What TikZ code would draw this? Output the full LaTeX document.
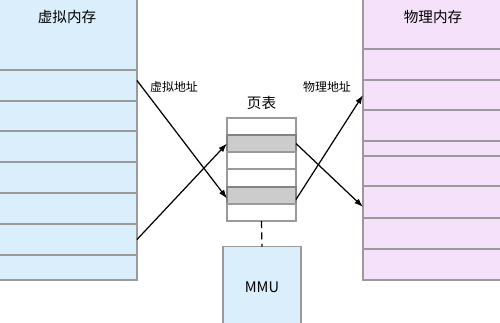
\documentclass[tikz,border=0pt]{standalone}
\usepackage{fontspec}
\setmainfont{Noto Sans CJK SC}
\usepackage{tikz}
\usetikzlibrary{arrows.meta, positioning, calc}
\definecolor{vmFill}{HTML}{DAEEFB}
\definecolor{pmFill}{HTML}{F6E1FA}
\definecolor{cellLine}{HTML}{9A9A9A}
\definecolor{ptUsed}{HTML}{CCCCCC}

\begin{document}
\begin{tikzpicture}[
  x=0.02cm, y=-0.02cm,
  vcell/.style={draw=cellLine, fill=vmFill, rectangle, inner sep=0pt, outer sep=0pt,
                minimum width=2.78cm, line width=0.6pt},
  pcell/.style={draw=cellLine, fill=pmFill, rectangle, inner sep=0pt, outer sep=0pt,
                minimum width=2.78cm, line width=0.6pt},
  ptrow/.style={draw=cellLine, fill=white, rectangle, inner sep=0pt, outer sep=0pt,
                minimum width=1.38cm, line width=0.6pt},
  ptused/.style={ptrow, fill=ptUsed, draw=cellLine!85!black},
  mmubox/.style={draw=cellLine, fill=vmFill, rectangle, inner sep=0pt, outer sep=0pt,
                 minimum width=1.56cm, minimum height=1.58cm, line width=0.6pt},
  title/.style={font=\fontsize{8.3}{10}\selectfont},
  lab/.style={font=\fontsize{6.8}{8}\selectfont, inner sep=1pt},
  arr/.style={-{Latex[length=5pt,width=3.5pt]}, line width=0.7pt}
]
  \useasboundingbox (0,0) rectangle (500,322);

  % virtual memory
  \node[vcell, minimum height=1.44cm] (vtop) at (67.5,34) {};
  \foreach \a/\b [count=\i] in {70/101, 101/131, 131/162, 162/193, 193/224, 224/255, 255/280}
    \node[vcell, minimum height={(\b-\a)*0.02cm}] (v\i) at (67.5,{(\a+\b)/2}) {};
  \node[title] (vtitle) at (67,17) {虚拟内存};

  % physical memory
  \node[pcell, minimum height=1.02cm] (ptop) at (432.5,23.5) {};
  \foreach \a/\b [count=\i] in {49/80, 80/110, 110/141, 141/156, 156/186, 186/218, 218/249, 249/280}
    \node[pcell, minimum height={(\b-\a)*0.02cm}] (p\i) at (432.5,{(\a+\b)/2}) {};
  \node[title] (ptitle) at (433,17) {物理内存};

  % page table
  \foreach \a/\b/\s [count=\i] in {118/135/ptrow, 135/152/ptused, 152/169/ptrow,
                                   169/187/ptrow, 187/204/ptused, 204/221/ptrow}
    \node[\s, minimum height={(\b-\a)*0.02cm}] (pt\i) at (261.5,{(\a+\b)/2}) {};
  \node[title, above=1pt of pt1] (pttitle) {页表};

  % MMU
  \node[mmubox] (mmu) at (262,286) {};
  \node[title] (mmutext) at (262,287) {MMU};
  \draw[dashed, line width=0.7pt, dash pattern=on 4pt off 2.5pt] (pt6.south) -- (mmu.north);

  % mappings
  \draw[arr] ([yshift=0.1cm]v1.east) -- ([yshift=-0.06cm]pt5.west);
  \draw[arr] (v6.east) -- (pt2.west);
  \draw[arr] (pt2.east) -- ([yshift=-0.1cm]p6.west);
  \draw[arr] ([yshift=-0.08cm]pt5.east) -- (p2.west);

  \node[lab] (vaddr) at (174,87) {虚拟地址};
  \node[lab] (paddr) at (327,87) {物理地址};
\end{tikzpicture}
\end{document}
